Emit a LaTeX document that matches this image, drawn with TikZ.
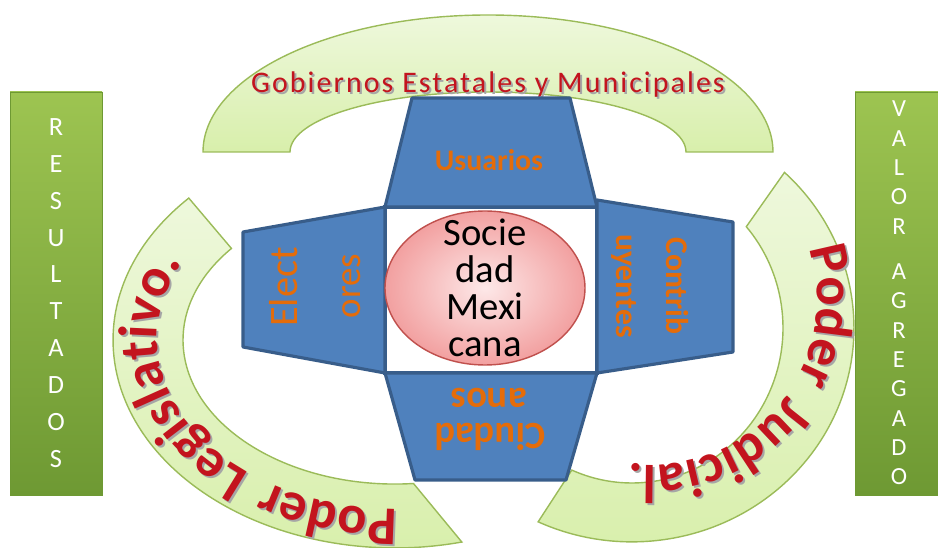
\documentclass[tikz,border=0pt]{standalone}
\usepackage{fontspec}
\setmainfont{Carlito}
\usetikzlibrary{decorations.text}
\definecolor{boxblue}{HTML}{4F81BD}
\definecolor{boxline}{HTML}{385D8A}
\definecolor{txtorange}{HTML}{E46C0A}
\definecolor{bandfill}{HTML}{D8EFAB}
\definecolor{bandlight}{HTML}{EEF8DC}
\definecolor{bandline}{HTML}{9BBB59}
\definecolor{bandred}{HTML}{C3141E}
\definecolor{bartop}{HTML}{9DC451}
\definecolor{barbot}{HTML}{6E9933}
\definecolor{pinkin}{HTML}{FDE8E8}
\definecolor{pinkout}{HTML}{F2A0A0}
\definecolor{pinkline}{HTML}{C0504D}
\newfontfamily\spacedfont[LetterSpace=7]{Carlito}
\newfontfamily\bandfamily[LetterSpace=12]{Carlito}
\newcommand{\bandfont}{\bandfamily\bfseries\fontsize{31}{31}\selectfont\color{bandred}}
\newcommand{\shadowfont}{\bandfamily\bfseries\fontsize{31}{31}\selectfont\color{black!35}}

\tikzset{
  box/.style={draw=boxline, line width=1.8pt, fill=boxblue, line join=round},
  band/.style={draw=bandline, line width=0.8pt, top color=bandlight, bottom color=bandfill},
  bar/.style={draw=barbot, top color=bartop, bottom color=barbot},
  boxtext/.style={text=txtorange, font=\bfseries\fontsize{#1}{#1}\selectfont, inner sep=0pt},
  bartext/.style={text=white, align=center, inner sep=0pt}
}

\begin{document}
\begin{tikzpicture}[x=0.02cm,y=0.02cm]
  \useasboundingbox (0,0) rectangle (938,548);
  \draw[bar] (10,53) rectangle (102,456);
  \draw[bar] (855,53) rectangle (940,456);
  \node[bartext, font=\fontsize{15}{21}\selectfont] (res) at (56,255) {R\\E\\S\\U\\L\\T\\A\\D\\O\\S};
  \node[bartext, font=\fontsize{14}{16.7}\selectfont] (val) at (899,255) {V\\A\\L\\O\\R\\[9pt]A\\G\\R\\E\\G\\A\\D\\O};

  \draw[band] (203,396) arc[start angle=180, end angle=0, x radius=285, y radius=137]
    -- (686,396) arc[start angle=0, end angle=180, x radius=198, y radius=60] -- cycle;
  \draw[band] (188.8,349.9) arc[start angle=137, end angle=283.7, x radius=282, y radius=208]
    -- (413.5,64.5) arc[start angle=275, end angle=140.5, x radius=212, y radius=144] -- cycle;
  \draw[band] (784.5,375.6) arc[start angle=46.6, end angle=-115, x radius=222, y radius=214]
    -- (571.8,77.9) arc[start angle=-113.5, end angle=40.8, x radius=151, y radius=155] -- cycle;

  \node[text=black!35, font=\spacedfont\fontsize{17}{17}\selectfont] at (490,461) {Gobiernos Estatales y Municipales};
  \node[text=bandred, font=\spacedfont\fontsize{17}{17}\selectfont] (gob) at (488,463) {Gobiernos Estatales y Municipales};
  \path[decorate, decoration={text along path, text align=center,
    text={|\shadowfont|Poder Legislativo.}}]
    (486.3,49.5) arc[start angle=292, end angle=128, x radius=238, y radius=170];
  \path[decorate, decoration={text along path, text align=center,
    text={|\bandfont|Poder Legislativo.}}]
    (484.3,51.5) arc[start angle=292, end angle=128, x radius=238, y radius=170];
  \path[decorate, decoration={text along path, text align=center,
    text={|\shadowfont|Poder Judicial.}}]
    (780.4,352.1) arc[start angle=40, end angle=-120, radius=165];
  \path[decorate, decoration={text along path, text align=center,
    text={|\bandfont|Poder Judicial.}}]
    (778.4,354.1) arc[start angle=40, end angle=-120, radius=165];

  \draw[draw=boxline, line width=1.8pt, fill=white] (385,175) rectangle (597,341);
  \draw[box] (412,450) -- (570,450) -- (597,341) -- (385,341) -- cycle;
  \draw[box] (243,316) -- (385,341) -- (385,175) -- (243,201) -- cycle;
  \draw[box] (597,348) -- (733,326) -- (733,196) -- (597,175) -- cycle;
  \draw[box] (385,175) -- (597,175) -- (566,68) -- (415,68) -- cycle;

  \node[boxtext=17] (usu) at (489,388) {Usuarios};
  \node[boxtext=23, font=\mdseries\fontsize{23}{23}\selectfont, rotate=90] (ele1) at (284,261) {Elect};
  \node[boxtext=21, font=\mdseries\fontsize{21}{21}\selectfont, rotate=90] (ele2) at (352,262) {ores};
  \node[boxtext=18, rotate=-90] (con1) at (677,262) {Contrib};
  \node[boxtext=18, rotate=-90] (con2) at (624,262) {uyentes};
  \node[boxtext=22, rotate=180] (ciu1) at (489,150) {anos};
  \node[boxtext=22, rotate=180] (ciu2) at (490,111) {Ciudad};

  \draw[draw=pinkline, line width=0.8pt, inner color=pinkin, outer color=pinkout] (485,260) ellipse [x radius=100, y radius=77];
  \node[align=center, font=\fontsize{22}{21}\selectfont] (soc) at (485,260) {Socie\\dad\\Mexi\\cana};
\end{tikzpicture}
\end{document}
